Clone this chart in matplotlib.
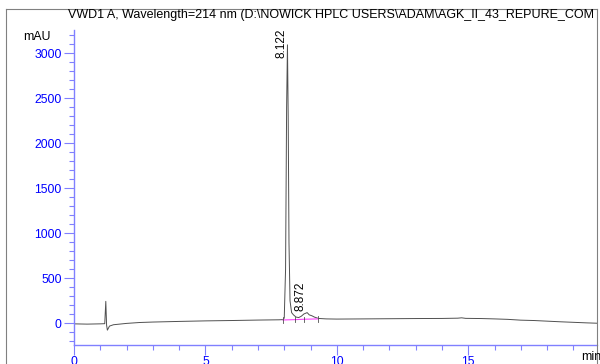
import matplotlib
matplotlib.use("Agg")
import matplotlib.pyplot as plt
from matplotlib.lines import Line2D

plt.rcParams["font.family"] = ["Liberation Sans", "DejaVu Sans"]

title = "VWD1 A, Wavelength=214 nm (D:\\NOWICK HPLC USERS\\ADAM\\AGK_II_43_REPURE_COM"

# retention time (min) and detector signal (mAU)
time = [0.0, 0.5, 1.0, 1.17, 1.21, 1.24, 1.27, 1.35, 1.5, 2.0, 2.5, 3.0,
        4.0, 5.0, 6.0, 7.0, 7.8, 7.95, 8.0, 8.05, 8.09, 8.122, 8.15, 8.18,
        8.22, 8.28, 8.35, 8.45, 8.55, 8.65, 8.75, 8.872, 8.95, 9.05, 9.15,
        9.3, 9.6, 10.0, 11.0, 12.0, 13.0, 14.0, 14.6, 14.75, 14.9, 15.5,
        16.0, 16.5, 17.0, 17.5, 18.0, 18.5, 19.0, 19.5, 19.9]
signal = [-5, -8, -5, -3, 245, -20, -75, -30, -15, 0, 10, 15,
          22, 28, 32, 37, 40, 42, 60, 600, 2400, 3095, 2300, 900,
          250, 120, 95, 70, 65, 80, 105, 120, 95, 85, 70,
          55, 50, 48, 50, 52, 54, 55, 58, 62, 56, 54,
          50, 45, 36, 32, 25, 18, 12, 6, 2]

peak_rt = [8.122, 8.872]
peak_label_y = [3280, 465]

# integration baseline and its event marks
base_t = [7.95, 8.4, 8.75, 9.28]
base_y = [38, 42, 46, 50]

blue = "#0000ff"
axis_blue = "#8080ff"

fig = plt.figure(figsize=(6, 3.64), dpi=100)
ax = fig.add_axes([74 / 600, 19 / 364, 523 / 600, 315 / 364])

ax.plot(time, signal, color="#505050", linewidth=0.7)
ax.plot(base_t, base_y, color="#ff40ff", linewidth=0.8)
for t, b in zip(base_t, base_y):
    ax.plot([t, t], [b - 30, b + 30], color="#505050", linewidth=0.6)

for rt, ly in zip(peak_rt, peak_label_y):
    ax.text(rt - 0.01, ly, f"{rt:.3f}", rotation=90, ha="right", va="top",
            fontsize=8.5, color="black", clip_on=False)

ax.set_xlim(0, 19.9)
ax.set_ylim(-240, 3260)
ax.set_xticks([0, 5, 10, 15])
ax.set_xticks(range(0, 20), minor=True)
ax.set_yticks(range(0, 3001, 500))
ax.set_yticks(range(-200, 3201, 100), minor=True)

for s in ["top", "right"]:
    ax.spines[s].set_visible(False)
for s in ["left", "bottom"]:
    ax.spines[s].set_color(axis_blue)
    ax.spines[s].set_linewidth(1.0)

ax.tick_params(which="major", direction="out", length=7, width=0.8,
               color=axis_blue, labelcolor=blue, labelsize=8.8, pad=2)
ax.tick_params(axis="x", which="major", pad=1)
ax.tick_params(which="minor", direction="out", length=3.5, width=0.8,
               color=axis_blue)

fig.text(37 / 600, 1 - 37 / 364, "mAU", ha="center", va="center", fontsize=8.8)
fig.text(591 / 600, 1 - 357 / 364, "min", ha="center", va="center", fontsize=8.8)
fig.text(68 / 600, 1 - 15 / 364, title, ha="left", va="center", fontsize=9.0)

# outer frame
frame = "#808080"
fig.add_artist(Line2D([6 / 600, 6 / 600], [0, 1 - 9 / 364], color=frame, linewidth=0.8))
fig.add_artist(Line2D([6 / 600, 597 / 600], [1 - 9 / 364, 1 - 9 / 364], color=frame, linewidth=0.8))
fig.add_artist(Line2D([597 / 600, 597 / 600], [0, 1 - 9 / 364], color=frame, linewidth=0.8))

fig.savefig("out.png", dpi=100)
